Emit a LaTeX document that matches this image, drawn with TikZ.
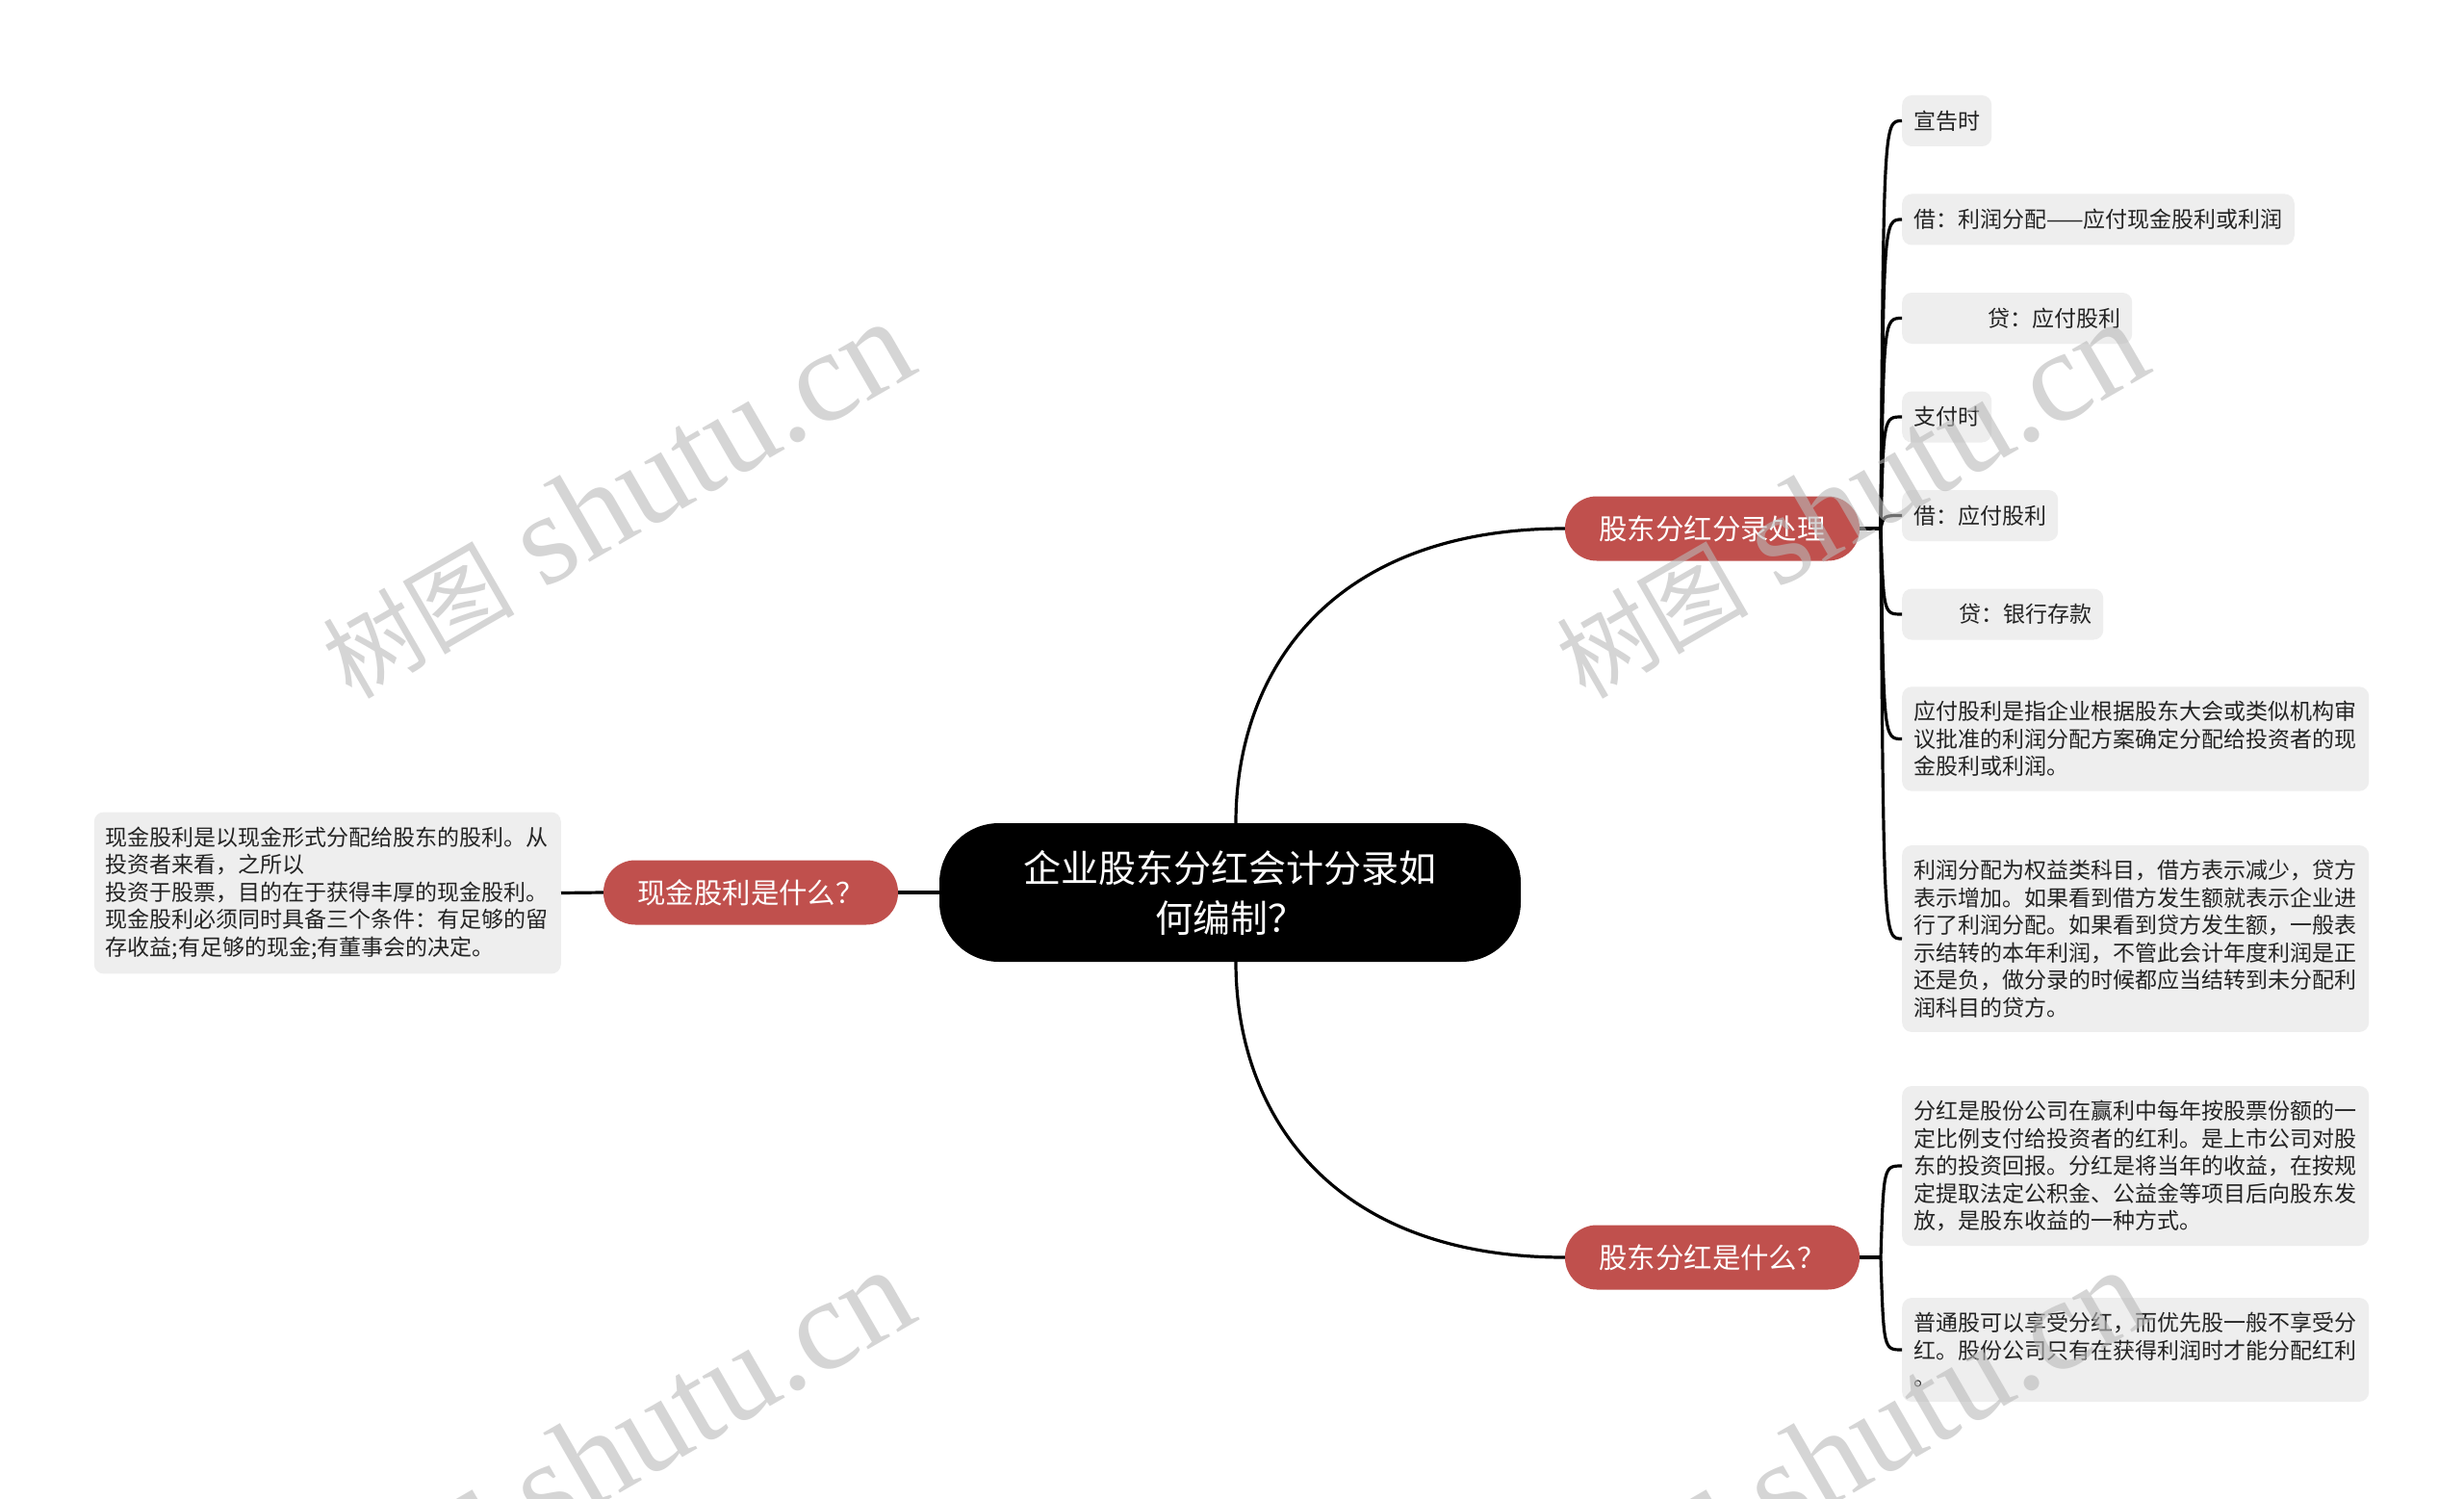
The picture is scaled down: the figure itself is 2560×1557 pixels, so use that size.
\documentclass[tikz,border=0pt]{standalone}
\usepackage{fontspec}
\setmainfont{Noto Sans CJK SC}
\newfontfamily\wmlatin{Liberation Serif}
\newfontfamily\wmcjk{Noto Sans CJK SC}
\XeTeXlinebreaklocale "zh"
\definecolor{topicred}{RGB}{192,80,77}
\definecolor{leafgray}{RGB}{238,238,238}
\definecolor{leaftext}{RGB}{35,35,35}
\definecolor{wmgray}{RGB}{185,185,185}
\tikzset{
  rootnode/.style={fill=black, text=white, rounded corners=62pt, minimum width=604pt, minimum height=144pt, align=center, inner sep=0pt, font=\fontsize{39}{52}\selectfont},
  topic/.style={fill=topicred, text=white, rounded corners=33pt, minimum width=306pt, minimum height=67pt, inner sep=0pt, font=\fontsize{29.4}{35}\selectfont},
  leaf/.style={fill=leafgray, text=leaftext, rounded corners=10pt, inner xsep=12pt, inner ysep=15pt, minimum height=53pt, align=left, font=\fontsize{23}{28.5}\selectfont},
  longleaf/.style={leaf, text width=461pt},
  conn/.style={draw=black, line width=3.2pt},
  wm/.style={text=wmgray, opacity=0.6, inner sep=0pt}
}
\begin{document}
\begin{tikzpicture}[x=1pt, y=-1pt]
\useasboundingbox (0,0) rectangle (2560,1557);
\fill[white] (0,0) rectangle (2560,1557);

% nodes
\node[rootnode] (root) at (1278,927) {企业股东分红会计分录如\\何编制？};
\node[topic] (t1) at (1779,549) {股东分红分录处理};
\node[topic] (t2) at (1779,1306) {股东分红是什么？};
\node[topic] (t3) at (780,927) {现金股利是什么？};

\node[leaf, anchor=west] (l1) at (1976,125.5) {宣告时};
\node[leaf, anchor=west] (l2) at (1976,228) {借：利润分配——应付现金股利或利润};
\node[leaf, anchor=west] (l3) at (1976,330.5) {\hspace*{77pt}贷：应付股利};
\node[leaf, anchor=west] (l4) at (1976,433) {支付时};
\node[leaf, anchor=west] (l5) at (1976,535.5) {借：应付股利};
\node[leaf, anchor=west] (l6) at (1976,638) {\hspace*{47pt}贷：银行存款};
\node[longleaf, anchor=west] (l7) at (1976,767.5) {应付股利是指企业根据股东大会或类似机构审\\议批准的利润分配方案确定分配给投资者的现\\金股利或利润。};
\node[longleaf, anchor=west] (l8) at (1976,975) {利润分配为权益类科目，借方表示减少，贷方\\表示增加。如果看到借方发生额就表示企业进\\行了利润分配。如果看到贷方发生额，一般表\\示结转的本年利润，不管此会计年度利润是正\\还是负，做分录的时候都应当结转到未分配利\\润科目的贷方。};
\node[longleaf, anchor=west] (l9) at (1976,1211) {分红是股份公司在赢利中每年按股票份额的一\\定比例支付给投资者的红利。是上市公司对股\\东的投资回报。分红是将当年的收益，在按规\\定提取法定公积金、公益金等项目后向股东发\\放，是股东收益的一种方式。};
\node[longleaf, anchor=west] (l10) at (1976,1402) {普通股可以享受分红，而优先股一般不享受分\\红。股份公司只有在获得利润时才能分配红利\\。};
\node[longleaf, anchor=east] (lb) at (583,927.5) {现金股利是以现金形式分配给股东的股利。从\\投资者来看，之所以\\投资于股票，目的在于获得丰厚的现金股利。\\现金股利必须同时具备三个条件：有足够的留\\存收益;有足够的现金;有董事会的决定。};

% connectors from root
\draw[conn] ([xshift=6pt]root.north) .. controls +(0,-155) and +(-246,0) .. (t1.west);
\draw[conn] ([xshift=6pt]root.south) .. controls +(0,155) and +(-246,0) .. (t2.west);
\draw[conn] (root.west) -- (t3.east);
\draw[conn] (t3.west) -- (lb.east);

% branch 1
\coordinate (j1) at (1954,549);
\draw[conn] (t1.east) -- (j1);
\foreach \n in {l1,l2,l3,l4,l5,l6,l7,l8}{
  \draw[conn] (j1) .. controls ([xshift=3pt]j1 |- \n.west) and ([xshift=3pt]j1 |- \n.west) .. (\n.west);
}
% branch 2
\coordinate (j2) at (1954,1306);
\draw[conn] (t2.east) -- (j2);
\foreach \n in {l9,l10}{
  \draw[conn] (j2) .. controls ([xshift=3pt]j2 |- \n.west) and ([xshift=3pt]j2 |- \n.west) .. (\n.west);
}

% watermarks
\begin{scope}
\clip (0,0) rectangle (2560,1557);
\foreach \wx/\wy [count=\i] in {640/519, 1922/519, 640/1504, 1922/1504}{
  \node[wm, rotate=30] (wm\i) at (\wx,\wy) {{\wmcjk\fontsize{100}{100}\selectfont 树图}\hspace{30pt}{\wmlatin\fontsize{135}{135}\selectfont shutu.cn}};
}
\end{scope}
\end{tikzpicture}
\end{document}
